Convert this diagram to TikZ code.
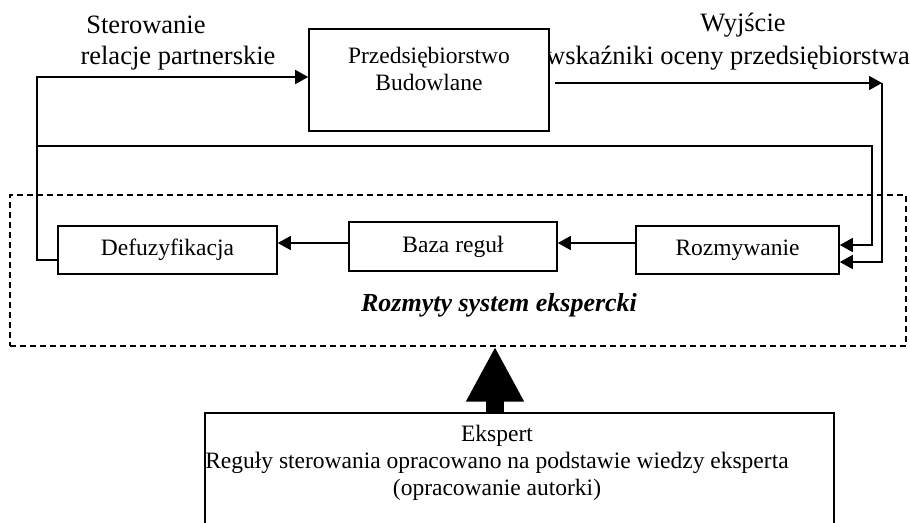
\documentclass[tikz,border=0pt]{standalone}
\usepackage{fontspec}
\setmainfont{Liberation Serif}
\usetikzlibrary{arrows.meta}

\begin{document}
\begin{tikzpicture}[x=1pt, y=-1pt,
        box/.style={draw, line width=1.6pt, rectangle, inner sep=0pt, fill=white},
        txt/.style={font=\fontsize{23.5}{27}\selectfont, align=center, inner sep=0pt},
        lbl/.style={font=\fontsize{26.5}{30}\selectfont, inner sep=0pt},
        arr/.style={line width=1.5pt, -{Triangle[length=13pt,width=14pt]}},
        bigarr/.style={line width=18pt, -{Triangle[length=55pt,width=54pt]}}]
        \useasboundingbox (0,0) rectangle (910,522);
        \clip (0,0) rectangle (910,522);

        \node[lbl] (sterowanie) at (146,25) {Sterowanie};
        \node[lbl] (relacje) at (178,58) {relacje partnerskie};
        \node[lbl] (wyjscie) at (743,25) {Wyjście};
        \node[lbl] (wskazniki) at (728,58) {wskaźniki oceny przedsiębiorstwa};

        \node[box, minimum width=240pt, minimum height=102pt] (firma) at (429,80) {};
        \node[txt] (firmatxt) at (429,68.5) {Przedsiębiorstwo\\Budowlane};

        \node[draw, line width=1.2pt, dash pattern=on 6pt off 4pt, minimum width=896pt, minimum height=151pt] (system) at (458,270.5) {};
        \node[box, txt, minimum width=219pt, minimum height=48pt] (defuz) at (167.5,250) {Defuzyfikacja};
        \node[box, txt, minimum width=208pt, minimum height=49pt] (baza) at (453,246.5) {Baza reguł};
        \node[box, txt, minimum width=203pt, minimum height=48pt] (rozm) at (737.5,250) {Rozmywanie};
        \node[lbl, font=\fontsize{26}{30}\selectfont\bfseries\itshape] (tytul) at (499,305) {Rozmyty system ekspercki};

        \node[box, minimum width=629pt, minimum height=150pt, anchor=north] (ekspert) at (519.5,412) {};
        \node[txt] (ekspertxt) at (497,463) {Ekspert\\Reguły sterowania opracowano na podstawie wiedzy eksperta\\(opracowanie autorki)};

        \coordinate (fb) at (38,146);
        \coordinate (wy) at (882,83);

        \draw[arr] ([yshift=-10pt]defuz.west) -- ++(-20,0) |- ([yshift=3pt]firma.west);
        \draw[arr] (fb) -- ++(834,0) |- ([yshift=5pt]rozm.east);
        \draw[arr] ([xshift=5pt,yshift=-3pt]firma.east) -- (wy);
        \draw[arr] (wy) |- ([yshift=-12pt]rozm.east);
        \draw[arr] ([yshift=3.5pt]baza.east -| rozm.west) -- ([yshift=3.5pt]baza.east);
        \draw[arr] ([yshift=3.5pt]baza.west) -- ([yshift=3.5pt]baza.west -| defuz.east);
        \draw[bigarr] ([xshift=-24.5pt]ekspert.north) -- ([xshift=-24.5pt]ekspert.north |- system.south);
    \end{tikzpicture}
\end{document}
